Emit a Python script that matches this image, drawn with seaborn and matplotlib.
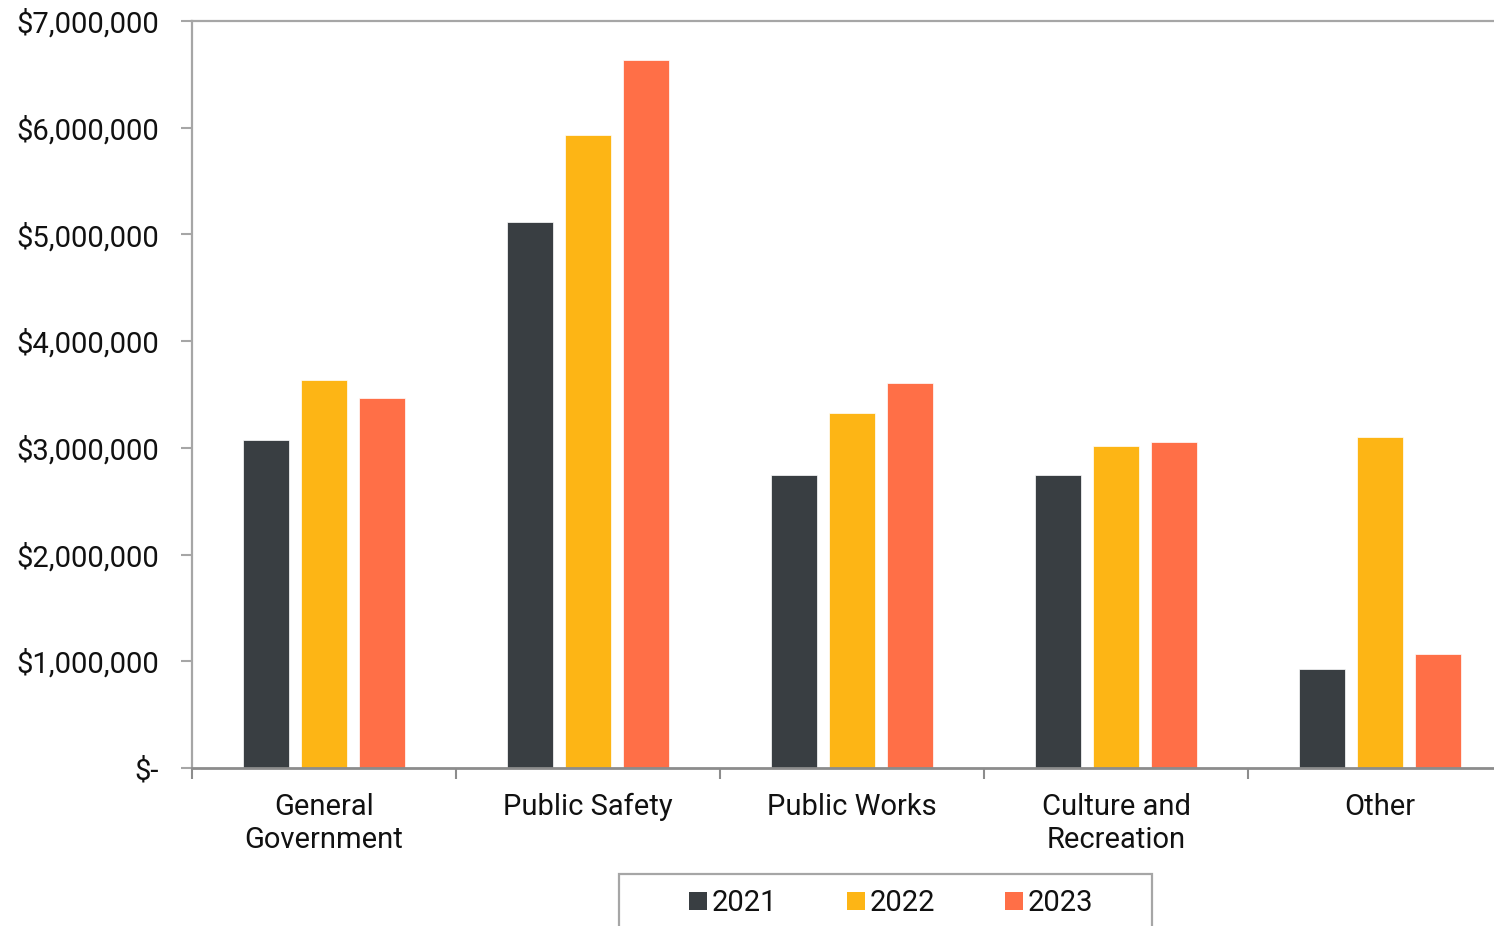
import numpy as np
import pandas as pd
import matplotlib
matplotlib.use("Agg")
import matplotlib.pyplot as plt
from matplotlib.patches import Rectangle
from matplotlib.ticker import FuncFormatter, FixedLocator
import seaborn as sns

categories = ["General\nGovernment", "Public Safety", "Public Works", "Culture and\nRecreation", "Other"]
years = ["2021", "2022", "2023"]
values_2021 = [3070000, 5120000, 2745000, 2748000, 928000]
values_2022 = [3632000, 5933000, 3324000, 3018000, 3106000]
values_2023 = [3465000, 6636000, 3610000, 3052000, 1072000]
colors = ["#393E42", "#FDB515", "#FF6F47"]

df = pd.DataFrame({
    "category": categories * 3,
    "year": [y for y in years for _ in categories],
    "value": values_2021 + values_2022 + values_2023,
})

sns.set_style("white")
plt.rcParams["font.family"] = ["Roboto", "DejaVu Sans"]
plt.rcParams["text.color"] = "#111111"

W, H = 1494, 926
fig = plt.figure(figsize=(W / 100, H / 100), dpi=100)
ax = fig.add_axes([192 / W, 1 - 768 / H, 1320 / W, (768 - 21) / H])

sns.barplot(
    data=df, x="category", y="value", hue="year",
    order=categories, hue_order=years, palette=colors,
    width=0.66, gap=0.21, saturation=1,
    edgecolor="white", linewidth=0.5, ax=ax,
)

ax.set_ylim(0, 7_000_000)
ax.set_xlim(-0.5, len(categories) - 0.5)
ax.set_yticks(np.arange(0, 7_000_001, 1_000_000))
ax.yaxis.set_major_formatter(
    FuncFormatter(lambda v, _: "$-" if v == 0 else f"${v:,.0f}")
)
ax.set_xlabel("")
ax.set_ylabel("")

# category labels without tick marks; boundary ticks between groups
ax.xaxis.set_minor_locator(FixedLocator(np.arange(-0.5, len(categories), 1.0)))
ax.tick_params(axis="x", which="minor", bottom=True, length=8, width=1.5,
               color="#8C8C8C", direction="out")
ax.tick_params(axis="x", which="major", bottom=False, length=0, pad=18,
               labelsize=21, labelcolor="#111111")
for lbl in ax.get_xticklabels():
    lbl.set_linespacing(1.25)
ax.tick_params(axis="y", which="major", left=True, length=8, width=1.5, color="#A6A6A6",
               direction="out", pad=16, labelsize=21, labelcolor="#111111")

for side in ("left", "top"):
    ax.spines[side].set_visible(True)
    ax.spines[side].set_color("#A6A6A6")
    ax.spines[side].set_linewidth(1.6)
ax.spines["bottom"].set_color("#8C8C8C")
ax.spines["bottom"].set_linewidth(2)
ax.spines["right"].set_visible(False)

handles, labels = ax.get_legend_handles_labels()
ax.legend_.remove()
leg = fig.legend(
    handles, labels, loc="center left", bbox_to_anchor=(689 / W, 1 - 903 / H),
    ncol=3, frameon=False, fontsize=21,
    handlelength=0.62, handleheight=0.58, handletextpad=0.17,
    columnspacing=2.38, borderpad=0, borderaxespad=0,
)
for h in leg.legend_handles:
    h.set_edgecolor("none")

# open-bottomed legend box
fig.patches.append(Rectangle(
    (619 / W, -0.02), (1152 - 619) / W, (1 - 874 / H) + 0.02,
    transform=fig.transFigure, fill=False, edgecolor="#A6A6A6", linewidth=1.6,
))

fig.savefig("out.png", dpi=100)
